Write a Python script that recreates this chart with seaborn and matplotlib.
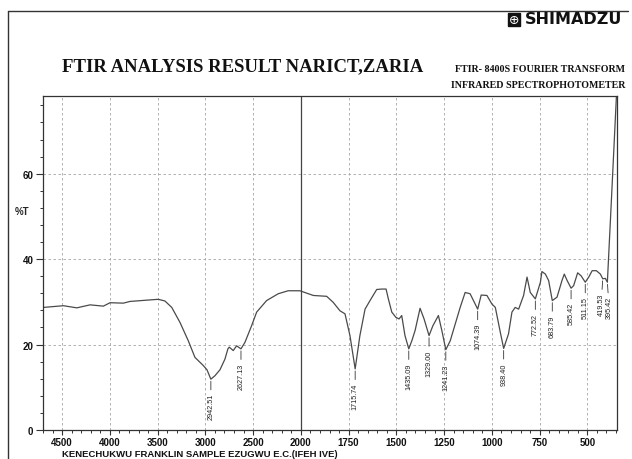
import numpy as np
import matplotlib.pyplot as plt
import seaborn as sns
import pandas as pd
from matplotlib.lines import Line2D
from matplotlib.patches import Rectangle
from matplotlib.ticker import FixedLocator, NullFormatter

# spectrum (cm-1, %T)
wavenumber = [4695, 4486, 4346, 4207, 4068, 3998, 3859, 3789, 3614, 3493,
              3423, 3352, 3266, 3179, 3109, 3022, 2983, 2942.51, 2900, 2847,
              2795, 2764, 2750, 2708, 2673, 2627.13, 2586, 2516, 2463, 2359,
              2237, 2133, 2010, 1935, 1865, 1831, 1795, 1769, 1743, 1715.74,
              1691, 1664, 1638, 1603, 1577, 1554, 1542, 1524, 1503, 1486,
              1472, 1455, 1435.09, 1419, 1402, 1376, 1355, 1329.00, 1309, 1280,
              1262, 1241.23, 1218, 1192, 1166, 1140, 1114, 1074.39, 1056, 1026,
              1000, 982, 956, 938.40, 913, 895, 878, 860, 834, 816,
              799, 772.52, 746, 738, 720, 703, 683.79, 659, 633, 621,
              606, 585.42, 572, 551, 533, 511.15, 493, 475, 453, 432,
              419.53, 406, 395.42, 374, 348]
transmittance = [28.7, 29.1, 28.6, 29.3, 29.0, 29.8, 29.7, 30.1, 30.4, 30.6,
                 30.2, 28.7, 25.2, 20.9, 17.0, 15.1, 14.1, 11.9, 12.7, 14.1,
                 16.6, 19.0, 19.4, 18.6, 19.7, 19.0, 20.5, 24.4, 27.6, 30.3,
                 31.9, 32.6, 32.6, 31.5, 31.3, 29.9, 27.9, 27.2, 22.1, 14.3,
                 22.1, 28.3, 30.3, 32.9, 33.0, 33.0, 30.7, 27.6, 26.4, 26.0,
                 26.8, 22.1, 19.0, 20.9, 23.3, 28.5, 26.0, 22.1, 24.4, 26.8,
                 23.3, 18.8, 20.9, 24.8, 28.7, 32.2, 31.9, 28.3, 31.6, 31.5,
                 29.5, 28.7, 22.9, 19.1, 22.5, 27.6, 28.7, 28.3, 31.5, 35.8,
                 32.2, 30.7, 34.6, 37.1, 36.5, 35.0, 30.3, 31.1, 35.0, 36.5,
                 35.0, 33.2, 33.8, 36.8, 36.1, 34.6, 35.8, 37.3, 37.3, 36.5,
                 35.4, 35.5, 34.6, 54.1, 78.2]

peak_positions = [2942.51, 2627.13, 1715.74, 1435.09, 1329.00, 1241.23, 1074.39,
                  938.40, 772.52, 683.79, 585.42, 511.15, 419.53, 395.42]

x_major = [4500, 4000, 3500, 3000, 2500, 2000, 1750, 1500, 1250, 1000, 750, 500]
y_major = [0, 20, 40, 60]

df = pd.DataFrame({"wn": wavenumber, "T": transmittance})


def fwd(w):
    w = np.asarray(w, dtype=float)
    return np.where(w >= 2000, 2000 + (w - 2000) * 0.5, w)


def inv(u):
    u = np.asarray(u, dtype=float)
    return np.where(u >= 2000, 2000 + (u - 2000) * 2.0, u)


sns.set_style("ticks")
plt.rcParams["font.family"] = ["Liberation Sans", "DejaVu Sans"]

W, H = 632, 460
fig = plt.figure(figsize=(W / 100, H / 100), dpi=100)
ax = fig.add_axes([43 / W, 1 - 431 / H, (617 - 43) / W, (431 - 97) / H])

ax.set_xscale("function", functions=(fwd, inv))
sns.lineplot(data=df, x="wn", y="T", sort=False, ax=ax, color="#4a4a4a",
             lw=0.9)
ax.set_xlim(4700, 345)
ax.set_ylim(0, 78.2)

ax.xaxis.set_major_locator(FixedLocator(x_major))
ax.xaxis.set_minor_locator(FixedLocator(
    list(range(4700, 2000, -100)) + list(range(2000, 340, -50))))
ax.xaxis.set_minor_formatter(NullFormatter())
ax.set_xticklabels([str(v) for v in x_major])
ax.yaxis.set_major_locator(FixedLocator(y_major))
ax.yaxis.set_minor_locator(FixedLocator(list(range(0, 78, 4))))
ax.set_yticklabels([str(v) for v in y_major])

ax.tick_params(which="major", length=5, width=0.8, labelsize=7, pad=2,
               color="#333333", labelcolor="#111111")
ax.tick_params(axis="x", which="major", length=3.5, pad=1.5)
ax.tick_params(which="minor", length=2.5, width=0.7, color="#333333")
for lab in ax.get_xticklabels() + ax.get_yticklabels():
    lab.set_fontweight("bold")

ax.grid(which="major", ls=(0, (3, 3)), color="#a5a5a5", lw=0.6)
ax.axvline(2000, color="#444444", lw=0.9)
for s in ax.spines.values():
    s.set_color("#333333")
    s.set_linewidth(0.9)

ax.set_xlabel("")
ax.set_ylabel("%T", rotation=0, fontsize=7, fontweight="bold")
ax.yaxis.set_label_coords(-0.037, 50 / 78.2)

# peak labels (the two last ones sit side by side, nudge them apart a bit)
nudge = {419.53: -1.2, 395.42: 1.2}
for p in peak_positions:
    t = np.interp(p, wavenumber[::-1], transmittance[::-1])
    ax.annotate(f"{p:.2f}", xy=(p, t), xytext=(nudge.get(p, 0), -10),
                textcoords="offset points",
                rotation=90, ha="center", va="top", fontsize=5.2,
                color="#222222",
                arrowprops=dict(arrowstyle="-", lw=0.6, color="#333333",
                                shrinkA=0, shrinkB=1.5))

# header
fig.text(243 / W, 1 - 67 / H, "FTIR ANALYSIS RESULT NARICT,ZARIA",
         family="Liberation Serif", fontweight="bold", fontsize=13.5,
         ha="center", va="center", color="#111111")
fig.text(625 / W, 1 - 69 / H, "FTIR- 8400S FOURIER TRANSFORM",
         family="Liberation Serif", fontweight="bold", fontsize=7.2,
         ha="right", va="center", color="#111111")
fig.text(625 / W, 1 - 86 / H, "INFRARED SPECTROPHOTOMETER",
         family="Liberation Serif", fontweight="bold", fontsize=7.2,
         ha="right", va="center", color="#111111")
fig.text(622 / W, 1 - 20 / H, "SHIMADZU", family="DejaVu Sans",
         fontweight="bold", fontsize=11.5, ha="right", va="center",
         color="#111111")
fig.add_artist(Rectangle((508 / W, 1 - 27 / H), 12 / W, 13 / H,
                         transform=fig.transFigure, facecolor="#111111",
                         edgecolor="#111111"))
fig.text(514 / W, 1 - 20.5 / H, "\u2295", family="DejaVu Sans", fontsize=9,
         ha="center", va="center", color="white")

fig.text(62 / W, 1 - 459 / H,
         "KENECHUKWU FRANKLIN SAMPLE EZUGWU E.C.(IFEH IVE)",
         fontsize=6.8, fontweight="bold", ha="left", va="bottom",
         color="#111111")

# page border of the scan
fig.add_artist(Line2D([8 / W, 8 / W], [0, 1 - 12 / H], color="#333333",
                      lw=1.0, transform=fig.transFigure))
fig.add_artist(Line2D([8 / W, 628 / W], [1 - 12 / H, 1 - 12 / H],
                      color="#333333", lw=1.0, transform=fig.transFigure))

fig.savefig("out.png", dpi=100)
